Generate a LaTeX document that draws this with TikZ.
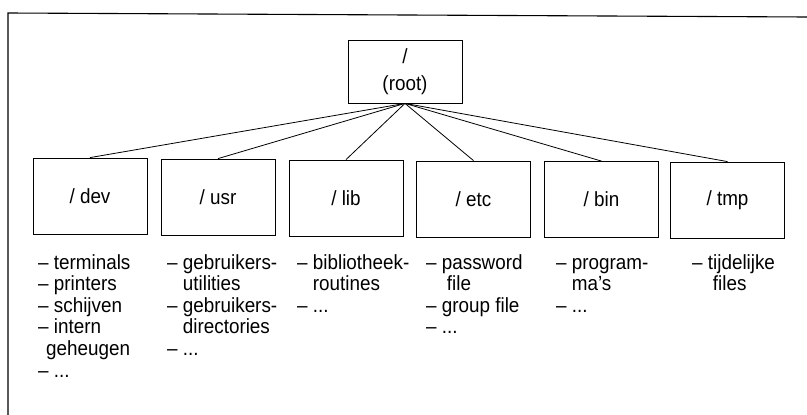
\documentclass[tikz,border=0pt]{standalone}
\usepackage{fontspec}
\setmainfont{Liberation Sans}[FakeStretch=0.92]
\begin{document}
\begin{tikzpicture}[x=1pt,y=-1pt,
  every node/.style={font=\fontsize{20.5}{21.6}\selectfont},
  dirbox/.style={draw,line width=0.8pt,minimum width=114pt,minimum height=76pt,inner sep=0pt},
  rootbox/.style={draw,line width=0.8pt,minimum width=114pt,minimum height=63pt,inner sep=0pt,
    align=center,font=\fontsize{20.5}{26}\selectfont},
  itemlist/.style={anchor=base west,inner sep=0pt},
  link/.style={line width=0.8pt},
  frame/.style={line width=1.1pt}]
\useasboundingbox (0,0) rectangle (807,415);

% open frame: top and left edges only
\coordinate (ftr) at (807,17);
\coordinate (ftl) at (8,13);
\coordinate (fbl) at (8,415);
\draw[frame] (ftr) -- (ftl) -- (fbl);

% root directory
\node[rootbox] (root) at (405,71.5) {/\\[1pt](root)};

% subdirectories
\node[dirbox] (dev) at (90,196)    {/ dev};
\node[dirbox] (usr) at (218,197)   {/ usr};
\node[dirbox] (lib) at (346,198)   {/ lib};
\node[dirbox] (etc) at (473.5,199) {/ etc};
\node[dirbox] (bin) at (601.5,199.5) {/ bin};
\node[dirbox] (tmp) at (727.5,200) {/ tmp};

\foreach \d in {dev,usr,lib,etc,bin,tmp}
  \draw[link] (root.south) -- (\d.north);

% contents of each directory
\node[itemlist] (devlist) at (38,269) {\begin{tabular}[t]{@{}l@{ }l@{}}
–& terminals\\
–& printers\\
–& schijven\\
–& intern\\
\multicolumn{2}{@{\hspace{8pt}}l@{}}{geheugen}\\
–& ...
\end{tabular}};

\node[itemlist] (usrlist) at (167,269) {\begin{tabular}[t]{@{}l@{ }l@{}}
–& gebruikers-\\
 & utilities\\
–& gebruikers-\\
 & directories\\
–& ...
\end{tabular}};

\node[itemlist] (liblist) at (297,269) {\begin{tabular}[t]{@{}l@{ }l@{}}
–& bibliotheek-\\
 & routines\\
–& ...
\end{tabular}};

\node[itemlist] (etclist) at (426,269) {\begin{tabular}[t]{@{}l@{ }l@{}}
–& password\\
 & \hspace{5pt}file\\
–& group file\\
–& ...
\end{tabular}};

\node[itemlist] (binlist) at (556,269) {\begin{tabular}[t]{@{}l@{ }l@{}}
–& program-\\
 & ma's\\
–& ...
\end{tabular}};

\node[itemlist] (tmplist) at (692,269) {\begin{tabular}[t]{@{}l@{ }l@{}}
–& tijdelijke\\
 & \hspace{5pt}files
\end{tabular}};
\end{tikzpicture}
\end{document}
